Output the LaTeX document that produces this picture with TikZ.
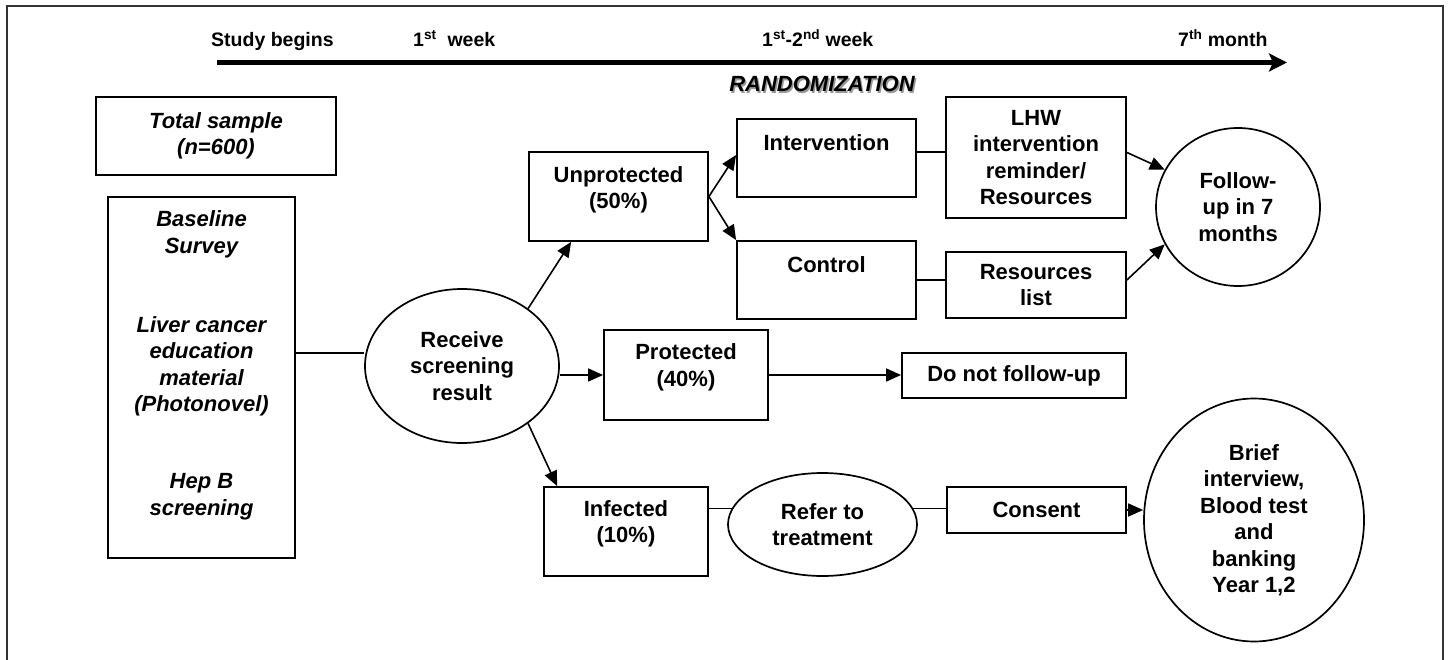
\documentclass[tikz,border=0pt]{standalone}
\usepackage{fontspec}
\setmainfont{Liberation Sans}
\usetikzlibrary{arrows.meta,shapes.geometric}
\newcommand\bfnt{\fontsize{22}{26.5}\selectfont\bfseries}
\newcommand\tlfnt{\fontsize{19.5}{23}\selectfont\bfseries}
\begin{document}
\begin{tikzpicture}[x=1pt,y=-1pt,
  box/.style={draw, line width=1.8pt, rectangle, inner sep=0pt, align=center, font=\bfnt},
  oval/.style={draw, line width=1.7pt, ellipse, inner sep=0pt, align=center, font=\bfnt},
  txt/.style={inner sep=0pt, align=center, font=\bfnt},
  tl/.style={inner sep=0pt, anchor=base west, font=\tlfnt},
  arr/.style={line width=1.6pt, -{Triangle[length=15pt,width=13pt]}},
  con/.style={line width=1.6pt}]
\useasboundingbox (0,0) rectangle (1448,660);
% frame
\draw[line width=2pt, black!80] (7,660) -- (7,6) -- (1443,6) -- (1443,660);
% timeline
\coordinate (t0) at (217,62.5);
\coordinate (t1) at (1287,62.5);
\draw[line width=5.5pt, -{Stealth[length=18pt,width=18pt,inset=4pt]}] (t0) -- (t1);
\node[tl] (lab1) at (211,47) {Study begins};
\node[tl] (lab2) at (413,47) {1\textsuperscript{st}\ \ week};
\node[tl] (lab3) at (762,47) {1\textsuperscript{st}-2\textsuperscript{nd} week};
\node[tl] (lab4) at (1178,47) {7\textsuperscript{th} month};
\node[txt, text=black!40, font=\bfnt\itshape] (randS) at (823.5,85.5) {RANDOMIZATION};
\node[txt, font=\bfnt\itshape] (rand) at (822,84) {RANDOMIZATION};
% left column
\node[box, font=\bfnt\itshape, minimum width=240pt, minimum height=78pt] (tot) at (216,136) {Total sample\\(n=600)};
\node[box, minimum width=187pt, minimum height=361pt] (base) at (201.5,377.5) {};
\node[txt, font=\bfnt\itshape] (base1) at (201.5,234.5) {Baseline\\Survey};
\node[txt, font=\bfnt\itshape] (base2) at (201.5,366.5) {Liver cancer\\education\\material\\(Photonovel)};
\node[txt, font=\bfnt\itshape] (base3) at (201.5,496.5) {Hep B\\screening};
% receive
\node[oval, minimum width=194pt, minimum height=154pt] (recv) at (462,366) {Receive\\screening\\result};
% unprotected branch
\node[box, minimum width=179pt, minimum height=89pt] (unprot) at (618.5,196.5) {};
\node[txt] (unprotT) at (618.5,190) {Unprotected\\(50\%)};
\node[box, minimum width=179pt, minimum height=78pt] (intv) at (826.5,158) {};
\node[txt] (intvT) at (826.5,143) {Intervention};
\node[box, minimum width=179pt, minimum height=78pt] (ctrl) at (826.5,280) {};
\node[txt] (ctrlT) at (826.5,265) {Control};
\node[box, minimum width=180pt, minimum height=121pt] (lhw) at (1036,157.5) {LHW\\intervention\\reminder/\\Resources};
\node[box, minimum width=180pt, minimum height=66pt] (res) at (1036,285) {Resources\\list};
\node[oval, minimum width=164pt, minimum height=158pt] (fu) at (1238,207) {Follow-\\up in 7\\months};
% protected branch
\node[box, minimum width=164pt, minimum height=90pt] (prot) at (686,375) {};
\node[txt] (protT) at (686,367.5) {Protected\\(40\%)};
\node[box, minimum width=224pt, minimum height=45pt] (dnf) at (1014,375.5) {Do not follow-up};
% infected branch
\node[box, minimum width=164pt, minimum height=89pt] (inf) at (626,531.5) {};
\node[txt] (infT) at (626,524) {Infected\\(10\%)};
\node[oval, minimum width=189pt, minimum height=103pt] (refer) at (822.5,524.5) {Refer to\\treatment};
\node[box, minimum width=179pt, minimum height=46pt] (cons) at (1036.5,510) {Consent};
\node[oval, minimum width=220pt, minimum height=243pt] (brief) at (1254,520) {Brief\\interview,\\Blood test\\and\\banking\\Year 1,2};
% connectors
\draw[con] (base.east |- 0,353) -- (recv.west |- 0,353);
\draw[arr] (recv.41) -- ([xshift=43pt]unprot.south west);
\draw[arr] (recv.east |- prot.west) -- (prot.west);
\draw[arr] (recv.-41) -- ([xshift=14pt]inf.north west);
\draw[arr] (unprot.east) -- ([yshift=3pt]intv.west);
\draw[arr] (unprot.east) -- (ctrl.north west);
\draw[con] ([yshift=6pt]intv.east) -- ([yshift=6pt]intv.east -| lhw.west);
\draw[con] (ctrl.east) -- (ctrl.east -| res.west);
\draw[arr] ([yshift=5pt]lhw.east) -- (fu.153);
\draw[arr] ([yshift=5pt]res.east) -- (fu.207);
\draw[arr] (prot.east) -- (prot.east -| dnf.west);
\draw[con] (inf.east |- refer.170) -- (refer.170);
\draw[con] (refer.10) -- (refer.10 -| cons.west);
\draw[arr] (cons.east) -- (cons.east -| brief.west);
\end{tikzpicture}
\end{document}
